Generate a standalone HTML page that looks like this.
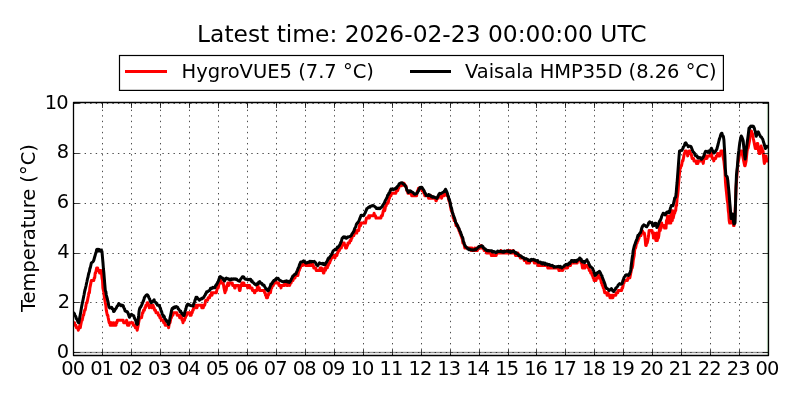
<!DOCTYPE html>
<html lang="en"><head><meta charset="utf-8"><title>Latest time: 2026-02-23 00:00:00 UTC</title>
<style>html,body{margin:0;padding:0;background:#fff;}body{width:800px;height:400px;overflow:hidden;}svg{display:block;}text{font-family:"DejaVu Sans", "Liberation Sans", sans-serif;fill:#000;}</style>
</head><body>
<svg width="800" height="400" viewBox="0 0 800 400">
<rect x="0" y="0" width="800" height="400" fill="#fff"/>
<g stroke="#000" stroke-width="0.7" stroke-dasharray="1.39,4.166" fill="none" shape-rendering="auto">
<line x1="102.5" y1="355.5" x2="102.5" y2="102.5"/>
<line x1="131.5" y1="355.5" x2="131.5" y2="102.5"/>
<line x1="160.5" y1="355.5" x2="160.5" y2="102.5"/>
<line x1="189.5" y1="355.5" x2="189.5" y2="102.5"/>
<line x1="218.5" y1="355.5" x2="218.5" y2="102.5"/>
<line x1="247.5" y1="355.5" x2="247.5" y2="102.5"/>
<line x1="276.5" y1="355.5" x2="276.5" y2="102.5"/>
<line x1="305.5" y1="355.5" x2="305.5" y2="102.5"/>
<line x1="334.5" y1="355.5" x2="334.5" y2="102.5"/>
<line x1="363.5" y1="355.5" x2="363.5" y2="102.5"/>
<line x1="392.5" y1="355.5" x2="392.5" y2="102.5"/>
<line x1="421.5" y1="355.5" x2="421.5" y2="102.5"/>
<line x1="450.5" y1="355.5" x2="450.5" y2="102.5"/>
<line x1="479.5" y1="355.5" x2="479.5" y2="102.5"/>
<line x1="508.5" y1="355.5" x2="508.5" y2="102.5"/>
<line x1="536.5" y1="355.5" x2="536.5" y2="102.5"/>
<line x1="565.5" y1="355.5" x2="565.5" y2="102.5"/>
<line x1="594.5" y1="355.5" x2="594.5" y2="102.5"/>
<line x1="623.5" y1="355.5" x2="623.5" y2="102.5"/>
<line x1="652.5" y1="355.5" x2="652.5" y2="102.5"/>
<line x1="681.5" y1="355.5" x2="681.5" y2="102.5"/>
<line x1="710.5" y1="355.5" x2="710.5" y2="102.5"/>
<line x1="739.5" y1="355.5" x2="739.5" y2="102.5"/>
<line x1="73.5" y1="352.5" x2="768.5" y2="352.5"/>
<line x1="73.5" y1="302.5" x2="768.5" y2="302.5"/>
<line x1="73.5" y1="253.5" x2="768.5" y2="253.5"/>
<line x1="73.5" y1="203.5" x2="768.5" y2="203.5"/>
<line x1="73.5" y1="153.5" x2="768.5" y2="153.5"/>
<line x1="73.5" y1="103.5" x2="768.5" y2="103.5"/>
</g>
<line x1="73.5" y1="352.5" x2="768.5" y2="352.5" stroke="#000" stroke-opacity="0.08" stroke-width="3"/>
<line x1="73.5" y1="352.5" x2="768.5" y2="352.5" stroke="#000" stroke-opacity="0.38" stroke-width="1"/>
<line x1="767.4" y1="102.5" x2="767.4" y2="355.5" stroke="#008000" stroke-opacity="0.25" stroke-width="1"/>
<clipPath id="c"><rect x="73.5" y="102.5" width="695.0" height="253.0"/></clipPath>
<g clip-path="url(#c)" fill="none" stroke-linejoin="round" stroke-linecap="butt">
<polyline stroke="#ff0000" stroke-width="3.00" points="73.5,322.7 74.5,322.7 74.9,325.2 75.9,325.2 76.4,327.7 77.8,327.7 78.3,330.2 78.8,327.7 79.3,327.7 79.8,325.2 80.3,327.7 80.7,325.2 81.2,322.7 81.7,320.2 82.2,320.2 82.7,317.7 83.2,315.2 83.6,315.2 84.1,312.8 84.6,310.3 85.1,310.3 85.6,307.8 86.0,305.3 86.5,302.8 87.0,302.8 87.5,300.3 88.0,297.8 88.5,295.3 88.9,292.8 89.4,292.8 89.9,287.9 90.4,285.4 90.9,282.9 91.4,280.4 93.8,280.4 94.2,277.9 94.7,277.9 95.2,272.9 95.7,272.9 96.2,270.4 96.7,267.9 97.6,267.9 98.1,270.4 99.1,270.4 99.6,272.9 100.0,270.4 100.5,272.9 101.0,270.4 101.5,272.9 102.0,277.9 102.5,280.4 102.9,287.9 103.4,290.4 103.9,292.8 104.4,297.8 104.9,300.3 105.3,302.8 105.8,305.3 106.3,310.3 106.8,312.8 107.3,315.2 107.8,315.2 108.2,317.7 108.7,320.2 109.2,322.7 109.7,322.7 110.2,325.2 110.7,322.7 111.1,325.2 111.6,322.7 112.1,325.2 113.1,325.2 113.5,322.7 114.0,325.2 115.0,325.2 115.5,322.7 116.0,325.2 116.4,322.7 116.9,322.7 117.4,320.2 123.2,320.2 123.7,322.7 126.1,322.7 126.6,320.2 127.1,322.7 127.5,325.2 129.0,325.2 129.5,322.7 132.8,322.7 133.3,325.2 134.8,325.2 135.3,327.7 136.7,327.7 137.2,330.2 137.7,327.7 138.2,325.2 138.6,322.7 139.1,320.2 139.6,317.7 141.5,317.7 142.0,315.2 142.5,312.8 143.0,312.8 143.5,310.3 144.4,310.3 144.9,307.8 145.4,307.8 145.9,305.3 146.8,305.3 147.3,302.8 147.8,302.8 148.3,305.3 148.8,305.3 149.3,307.8 149.7,305.3 151.2,305.3 151.7,307.8 152.6,307.8 153.1,305.3 153.6,307.8 154.1,307.8 154.6,310.3 155.5,310.3 156.0,312.8 157.9,312.8 158.4,315.2 159.4,315.2 159.9,317.7 160.8,317.7 161.3,320.2 163.2,320.2 163.7,322.7 164.7,322.7 165.2,325.2 168.1,325.2 168.6,327.7 169.0,325.2 169.5,322.7 170.0,322.7 170.5,320.2 171.0,317.7 171.4,317.7 171.9,315.2 172.9,315.2 173.4,312.8 176.8,312.8 177.2,315.2 179.2,315.2 179.7,317.7 180.1,315.2 180.6,315.2 181.1,317.7 181.6,317.7 182.1,320.2 182.5,320.2 183.0,322.7 183.5,320.2 184.5,320.2 185.0,317.7 185.4,317.7 185.9,315.2 186.9,315.2 187.4,312.8 189.8,312.8 190.3,315.2 190.7,312.8 191.2,315.2 191.7,312.8 192.2,312.8 192.7,310.3 193.2,310.3 193.6,307.8 195.6,307.8 196.1,305.3 196.5,307.8 197.0,307.8 197.5,305.3 201.4,305.3 201.8,307.8 202.3,305.3 202.8,307.8 203.3,307.8 203.8,305.3 204.7,305.3 205.2,302.8 205.7,300.3 207.6,300.3 208.1,297.8 209.6,297.8 210.0,295.3 211.0,295.3 211.5,292.8 212.0,295.3 212.5,292.8 216.3,292.8 216.8,290.4 217.3,287.9 218.2,287.9 218.7,285.4 219.2,282.9 219.7,282.9 220.2,280.4 220.7,280.4 221.1,282.9 223.1,282.9 223.6,285.4 224.0,287.9 224.5,290.4 225.0,292.8 225.5,290.4 226.0,290.4 226.5,287.9 226.9,285.4 227.4,285.4 227.9,282.9 228.4,282.9 228.9,285.4 229.3,282.9 232.2,282.9 232.7,285.4 234.2,285.4 234.7,287.9 235.1,287.9 235.6,285.4 238.5,285.4 239.0,287.9 239.5,290.4 240.0,290.4 240.4,287.9 240.9,285.4 241.4,285.4 241.9,282.9 242.9,282.9 243.3,285.4 243.8,282.9 244.3,285.4 247.2,285.4 247.7,287.9 248.2,285.4 249.6,285.4 250.1,287.9 252.0,287.9 252.5,290.4 254.0,290.4 254.4,292.8 254.9,292.8 255.4,290.4 256.9,290.4 257.3,287.9 257.8,285.4 258.3,287.9 259.3,287.9 259.7,290.4 264.1,290.4 264.6,292.8 265.1,292.8 265.5,295.3 266.0,295.3 266.5,297.8 267.0,295.3 267.5,297.8 267.9,295.3 268.4,295.3 268.9,292.8 270.4,292.8 270.8,290.4 271.3,287.9 271.8,287.9 272.3,285.4 273.3,285.4 273.7,282.9 275.2,282.9 275.7,280.4 276.1,282.9 278.6,282.9 279.0,285.4 280.5,285.4 281.0,287.9 281.5,285.4 284.4,285.4 284.8,282.9 286.3,282.9 286.8,285.4 287.2,285.4 287.7,282.9 288.2,285.4 288.7,282.9 289.2,282.9 289.7,285.4 290.1,282.9 291.1,282.9 291.6,280.4 293.0,280.4 293.5,277.9 295.0,277.9 295.4,275.4 297.9,275.4 298.3,272.9 298.8,270.4 299.3,270.4 299.8,267.9 300.3,267.9 300.8,265.5 302.7,265.5 303.2,263.0 305.1,263.0 305.6,265.5 309.0,265.5 309.4,263.0 309.9,265.5 311.4,265.5 311.9,263.0 312.3,263.0 312.8,265.5 313.3,265.5 313.8,267.9 315.7,267.9 316.2,270.4 319.6,270.4 320.1,267.9 320.5,267.9 321.0,270.4 321.5,267.9 322.0,270.4 323.0,270.4 323.4,272.9 323.9,272.9 324.4,270.4 324.9,267.9 325.4,270.4 325.8,267.9 326.3,267.9 326.8,265.5 327.3,267.9 327.8,265.5 328.3,265.5 328.7,263.0 329.7,263.0 330.2,260.5 330.7,260.5 331.2,258.0 332.1,258.0 332.6,255.5 334.5,255.5 335.0,258.0 335.5,255.5 336.9,255.5 337.4,253.0 337.9,253.0 338.4,250.5 339.4,250.5 339.8,248.0 341.3,248.0 341.8,245.5 342.3,245.5 342.7,243.0 344.2,243.0 344.7,245.5 345.1,245.5 345.6,248.0 346.1,245.5 346.6,248.0 347.1,245.5 347.6,245.5 348.0,243.0 349.5,243.0 350.0,240.6 350.9,240.6 351.4,238.1 351.9,238.1 352.4,235.6 353.8,235.6 354.3,233.1 354.8,233.1 355.3,230.6 355.8,230.6 356.2,233.1 356.7,233.1 357.2,230.6 358.7,230.6 359.1,228.1 359.6,225.6 360.1,223.1 360.6,225.6 361.1,223.1 365.4,223.1 365.9,220.6 366.4,218.1 368.3,218.1 368.8,215.7 369.3,218.1 369.8,215.7 373.6,215.7 374.1,213.2 374.6,215.7 375.5,215.7 376.0,218.1 380.9,218.1 381.3,215.7 382.3,215.7 382.8,213.2 383.3,210.7 383.7,210.7 384.2,208.2 384.7,210.7 385.2,208.2 385.7,205.7 386.2,205.7 386.6,203.2 388.1,203.2 388.6,200.7 389.1,198.2 389.5,198.2 390.0,195.7 391.0,195.7 391.5,193.2 395.8,193.2 396.3,190.8 396.8,190.8 397.3,188.3 397.7,190.8 398.2,188.3 398.7,188.3 399.2,185.8 401.6,185.8 402.1,183.3 404.0,183.3 404.5,185.8 405.9,185.8 406.4,188.3 406.9,190.8 407.4,190.8 407.9,193.2 411.2,193.2 411.7,195.7 416.6,195.7 417.0,193.2 417.5,190.8 418.0,190.8 418.5,188.3 421.4,188.3 421.9,190.8 423.3,190.8 423.8,193.2 424.3,193.2 424.8,195.7 428.1,195.7 428.6,198.2 429.1,195.7 429.6,195.7 430.1,198.2 430.5,195.7 431.0,195.7 431.5,198.2 435.4,198.2 435.9,200.7 436.3,200.7 436.8,198.2 438.3,198.2 438.8,195.7 441.2,195.7 441.6,198.2 442.1,195.7 444.1,195.7 444.5,193.2 446.5,193.2 447.0,195.7 447.9,195.7 448.4,198.2 448.9,200.7 449.4,200.7 449.9,203.2 450.3,205.7 450.8,208.2 451.3,210.7 451.8,210.7 452.3,213.2 452.7,213.2 453.2,218.1 453.7,218.1 454.2,220.6 455.2,220.6 455.6,223.1 456.1,225.6 457.6,225.6 458.1,228.1 458.5,228.1 459.0,230.6 459.5,230.6 460.0,233.1 460.5,233.1 460.9,235.6 461.4,235.6 461.9,238.1 462.4,238.1 462.9,243.0 463.8,243.0 464.3,245.5 464.8,248.0 470.6,248.0 471.1,250.5 471.6,250.5 472.0,248.0 472.5,250.5 474.5,250.5 474.9,248.0 475.4,250.5 476.4,250.5 476.9,248.0 477.4,250.5 477.8,248.0 480.7,248.0 481.2,245.5 481.7,248.0 483.6,248.0 484.1,250.5 486.0,250.5 486.5,253.0 487.0,250.5 487.5,253.0 488.0,253.0 488.4,250.5 488.9,253.0 490.9,253.0 491.3,255.5 491.8,253.0 492.3,253.0 492.8,255.5 496.2,255.5 496.7,253.0 500.5,253.0 501.0,250.5 501.5,253.0 506.8,253.0 507.3,250.5 507.8,253.0 509.2,253.0 509.7,250.5 510.2,250.5 510.6,253.0 512.6,253.0 513.1,250.5 513.5,253.0 515.0,253.0 515.5,255.5 517.4,255.5 517.9,253.0 518.4,255.5 519.8,255.5 520.3,258.0 523.7,258.0 524.2,260.5 526.1,260.5 526.6,263.0 527.0,260.5 527.5,263.0 528.0,260.5 528.5,263.0 529.0,260.5 529.5,263.0 529.9,260.5 533.8,260.5 534.3,263.0 537.7,263.0 538.1,265.5 538.6,263.0 539.1,265.5 547.3,265.5 547.8,267.9 548.3,265.5 548.8,267.9 558.4,267.9 558.9,270.4 559.4,267.9 559.9,270.4 560.3,267.9 560.8,267.9 561.3,270.4 561.8,267.9 562.3,267.9 562.8,270.4 563.2,267.9 566.6,267.9 567.1,265.5 567.6,267.9 568.1,265.5 570.5,265.5 571.0,263.0 577.2,263.0 577.7,260.5 580.6,260.5 581.1,263.0 581.6,263.0 582.1,265.5 582.5,267.9 583.0,265.5 583.5,267.9 584.0,265.5 584.5,267.9 585.0,267.9 585.4,265.5 587.8,265.5 588.3,267.9 588.8,267.9 589.3,270.4 590.3,270.4 590.7,272.9 591.7,272.9 592.2,275.4 592.7,275.4 593.2,277.9 593.6,277.9 594.1,280.4 596.0,280.4 596.5,277.9 597.5,277.9 598.0,275.4 598.9,275.4 599.4,277.9 600.4,277.9 600.9,280.4 601.4,282.9 601.8,282.9 602.3,285.4 602.8,285.4 603.3,287.9 603.8,287.9 604.2,290.4 604.7,292.8 606.7,292.8 607.1,295.3 607.6,292.8 608.1,292.8 608.6,295.3 609.6,295.3 610.0,297.8 610.5,295.3 611.0,295.3 611.5,297.8 612.0,297.8 612.5,295.3 612.9,297.8 613.4,295.3 615.8,295.3 616.3,292.8 617.8,292.8 618.2,290.4 621.6,290.4 622.1,287.9 622.6,287.9 623.1,285.4 623.5,282.9 624.0,282.9 624.5,280.4 627.4,280.4 627.9,277.9 628.9,277.9 629.3,275.4 629.8,277.9 630.3,275.4 630.8,272.9 631.3,270.4 631.8,267.9 632.2,267.9 632.7,265.5 633.2,260.5 633.7,258.0 634.2,255.5 634.6,250.5 635.1,248.0 635.6,248.0 636.1,245.5 636.6,243.0 637.1,243.0 637.5,240.6 638.0,240.6 638.5,238.1 639.0,238.1 639.5,235.6 640.9,235.6 641.4,233.1 641.9,233.1 642.4,230.6 642.9,233.1 644.3,233.1 644.8,235.6 645.3,240.6 645.7,245.5 646.2,245.5 646.7,243.0 647.2,243.0 647.7,240.6 648.2,238.1 648.6,235.6 649.1,230.6 652.0,230.6 652.5,233.1 653.0,233.1 653.5,238.1 653.9,235.6 654.4,233.1 654.9,235.6 655.4,235.6 655.9,240.6 656.4,240.6 656.8,233.1 657.3,240.6 657.8,235.6 658.3,238.1 658.8,235.6 659.3,230.6 659.7,225.6 660.2,230.6 660.7,228.1 661.2,228.1 661.7,223.1 662.1,225.6 664.1,225.6 664.6,228.1 665.0,228.1 665.5,225.6 666.0,228.1 666.5,220.6 667.0,223.1 667.5,215.7 667.9,223.1 669.9,223.1 670.4,215.7 670.8,223.1 671.3,210.7 671.8,215.7 672.3,220.6 672.8,210.7 673.2,218.1 673.7,215.7 674.2,213.2 674.7,213.2 675.2,210.7 675.7,210.7 676.1,205.7 676.6,205.7 677.1,198.2 677.6,195.7 678.1,190.8 678.6,183.3 679.0,178.3 679.5,173.3 680.0,168.3 680.5,168.3 681.0,165.8 681.5,165.8 681.9,163.4 682.4,160.9 682.9,160.9 683.4,158.4 683.9,155.9 684.3,153.4 684.8,153.4 685.3,150.9 686.3,150.9 686.8,153.4 687.2,153.4 687.7,155.9 688.2,153.4 688.7,153.4 689.2,150.9 689.7,150.9 690.1,153.4 691.1,153.4 691.6,155.9 692.1,158.4 693.5,158.4 694.0,160.9 695.9,160.9 696.4,163.4 696.9,160.9 697.4,163.4 697.9,163.4 698.3,160.9 702.7,160.9 703.2,163.4 703.6,160.9 704.1,158.4 705.1,158.4 705.6,155.9 706.1,158.4 706.5,155.9 707.0,158.4 707.5,155.9 709.9,155.9 710.4,153.4 711.4,153.4 711.8,155.9 712.3,158.4 713.3,158.4 713.8,160.9 714.3,158.4 715.7,158.4 716.2,155.9 717.2,155.9 717.6,153.4 718.1,153.4 718.6,155.9 719.6,155.9 720.0,153.4 720.5,153.4 721.0,150.9 722.5,150.9 722.9,155.9 723.4,158.4 723.9,160.9 724.4,165.8 724.9,170.8 725.4,180.8 725.8,185.8 726.3,190.8 726.8,195.7 727.3,200.7 727.8,203.2 728.3,210.7 728.7,213.2 729.2,220.6 729.7,223.1 730.2,223.1 730.7,220.6 732.1,220.6 732.6,223.1 733.1,223.1 733.6,225.6 734.0,225.6 734.5,223.1 735.0,213.2 735.5,203.2 736.0,188.3 736.5,180.8 736.9,175.8 737.4,168.3 737.9,163.4 738.4,160.9 738.9,158.4 739.3,155.9 739.8,153.4 740.3,153.4 740.8,150.9 741.8,150.9 742.2,153.4 742.7,155.9 743.2,158.4 743.7,160.9 744.2,163.4 744.7,165.8 745.1,165.8 745.6,163.4 746.1,160.9 746.6,155.9 747.1,150.9 747.6,148.4 748.0,148.4 748.5,145.9 749.0,143.4 749.5,141.0 750.0,136.0 750.4,136.0 750.9,133.5 751.4,131.0 751.9,133.5 752.4,133.5 752.9,136.0 753.3,138.5 753.8,141.0 754.3,143.4 754.8,145.9 755.3,148.4 756.2,148.4 756.7,145.9 757.2,143.4 757.7,143.4 758.2,148.4 758.6,150.9 759.1,153.4 760.1,153.4 760.6,150.9 761.1,145.9 761.5,148.4 762.0,148.4 762.5,150.9 763.0,150.9 763.5,155.9 764.0,160.9 764.4,163.4 764.9,160.9 765.4,155.9 765.9,155.9 766.4,158.4 766.9,160.9 768.3,160.9"/>
<polyline stroke="#000000" stroke-width="3.00" points="73.50,312.00 73.98,313.25 74.47,313.75 74.95,315.25 75.43,316.00 75.91,317.00 76.39,318.75 76.88,319.25 77.36,320.00 77.84,321.50 78.33,322.50 78.81,322.75 79.29,320.25 79.77,317.25 80.25,314.75 80.74,312.00 81.22,309.00 81.70,306.25 82.19,303.75 82.67,301.50 83.15,299.25 83.63,296.75 84.11,294.50 84.60,291.50 85.08,289.75 85.56,287.75 86.05,285.75 86.53,283.25 87.01,281.25 87.49,278.75 87.97,277.25 88.46,274.50 88.94,272.75 89.42,271.50 89.91,268.50 90.39,267.50 90.87,265.25 91.35,263.00 91.83,262.50 92.32,262.25 92.80,262.00 93.28,261.25 93.77,260.25 94.25,258.50 94.73,256.75 95.21,255.25 95.69,253.25 96.18,252.25 96.66,249.50 97.14,249.25 97.62,249.50 98.11,249.25 98.59,251.00 99.07,249.50 99.56,250.50 100.04,250.50 100.52,251.25 101.00,250.00 101.48,251.00 101.97,251.25 102.45,257.00 102.93,262.25 103.41,268.50 103.90,273.25 104.38,279.25 104.86,285.00 105.34,290.75 105.83,291.50 106.31,295.00 106.79,297.00 107.28,298.50 107.76,301.00 108.24,302.75 108.72,305.75 109.20,307.25 109.69,308.00 110.17,307.75 110.65,307.75 111.13,307.50 111.62,307.25 112.10,308.75 112.58,308.50 113.06,309.00 113.55,311.50 114.03,311.50 114.51,310.75 115.00,309.75 115.48,309.00 115.96,308.50 116.44,307.75 116.92,306.50 117.41,305.75 117.89,305.75 118.37,304.50 118.85,303.50 119.34,305.00 119.82,304.75 120.30,304.75 120.78,304.75 121.27,305.75 121.75,305.25 122.23,305.25 122.72,305.25 123.20,305.75 123.68,307.50 124.16,308.25 124.64,309.25 125.13,311.00 125.61,311.00 126.09,311.50 126.58,311.75 127.06,311.50 127.54,312.00 128.02,313.25 128.50,314.25 128.99,316.00 129.47,317.25 129.95,316.25 130.44,315.50 130.92,314.75 131.40,314.25 131.88,314.50 132.37,315.00 132.85,315.25 133.33,315.75 133.81,315.75 134.29,317.75 134.78,318.75 135.26,319.50 135.74,320.50 136.22,322.50 136.71,324.00 137.19,324.50 137.67,324.00 138.16,319.50 138.64,315.75 139.12,311.00 139.60,308.75 140.08,307.50 140.57,307.25 141.05,306.25 141.53,305.50 142.01,304.25 142.50,303.00 142.98,301.75 143.46,300.75 143.94,299.25 144.43,297.50 144.91,296.75 145.39,296.25 145.88,295.50 146.36,295.00 146.84,294.75 147.32,294.75 147.81,295.25 148.29,296.00 148.77,297.50 149.25,298.25 149.74,299.25 150.22,301.25 150.70,302.00 151.18,302.75 151.66,302.50 152.15,302.25 152.63,301.25 153.11,300.75 153.59,300.50 154.08,299.75 154.56,301.25 155.04,302.00 155.52,302.50 156.01,302.50 156.49,303.75 156.97,304.00 157.45,305.25 157.94,305.25 158.42,305.25 158.90,305.25 159.38,305.50 159.87,307.25 160.35,308.00 160.83,309.75 161.31,311.25 161.80,312.25 162.28,314.50 162.76,314.75 163.25,316.50 163.73,315.75 164.21,316.50 164.69,318.25 165.18,319.00 165.66,319.50 166.14,320.50 166.62,320.50 167.10,321.75 167.59,322.25 168.07,323.25 168.55,324.50 169.03,323.00 169.52,320.75 170.00,318.00 170.48,315.75 170.96,313.50 171.45,311.00 171.93,309.25 172.41,308.25 172.89,308.75 173.38,307.50 173.86,308.00 174.34,307.00 174.82,307.75 175.31,306.75 175.79,306.75 176.27,306.50 176.75,306.75 177.24,307.00 177.72,307.25 178.20,309.00 178.69,309.00 179.17,309.75 179.65,310.50 180.13,311.75 180.61,311.00 181.10,312.50 181.58,312.75 182.06,313.75 182.54,313.50 183.03,314.50 183.51,315.50 183.99,315.50 184.47,313.75 184.96,311.50 185.44,310.25 185.92,308.75 186.40,306.75 186.89,305.25 187.37,304.50 187.85,304.00 188.33,304.25 188.82,305.00 189.30,304.50 189.78,305.25 190.26,305.50 190.75,305.50 191.23,305.75 191.71,305.75 192.19,305.75 192.68,305.75 193.16,306.00 193.64,304.00 194.12,303.00 194.61,301.75 195.09,300.00 195.57,299.00 196.06,297.25 196.54,297.50 197.02,297.25 197.50,298.00 197.99,298.75 198.47,299.25 198.95,299.75 199.43,300.25 199.91,299.75 200.40,299.00 200.88,299.25 201.36,299.00 201.84,298.25 202.33,298.75 202.81,298.00 203.29,297.50 203.78,297.50 204.26,296.25 204.74,295.50 205.22,295.00 205.70,293.50 206.19,293.25 206.67,291.75 207.15,292.00 207.63,291.50 208.12,291.50 208.60,290.75 209.08,290.75 209.56,290.50 210.05,289.75 210.53,288.25 211.01,288.75 211.50,288.25 211.98,287.75 212.46,288.25 212.94,287.25 213.43,287.50 213.91,287.75 214.39,287.75 214.87,287.75 215.35,286.25 215.84,285.25 216.32,285.25 216.80,283.75 217.28,283.50 217.77,282.00 218.25,281.50 218.73,280.00 219.21,278.50 219.70,277.00 220.18,276.50 220.66,276.75 221.14,277.25 221.63,277.50 222.11,278.00 222.59,278.00 223.07,279.50 223.56,279.50 224.04,280.50 224.52,281.00 225.00,279.50 225.49,278.50 225.97,279.00 226.45,278.00 226.94,278.50 227.42,278.50 227.90,279.00 228.38,278.75 228.86,279.50 229.35,279.50 229.83,280.00 230.31,279.00 230.79,280.00 231.28,279.75 231.76,278.75 232.24,279.00 232.72,279.00 233.21,279.25 233.69,278.75 234.17,279.25 234.66,279.00 235.14,278.75 235.62,279.00 236.10,279.50 236.59,279.00 237.07,279.75 237.55,280.25 238.03,280.50 238.51,281.00 239.00,281.00 239.48,281.25 239.96,280.25 240.44,279.50 240.93,278.75 241.41,278.25 241.89,277.50 242.37,276.75 242.86,276.75 243.34,276.75 243.82,277.00 244.30,278.25 244.79,278.75 245.27,279.25 245.75,279.25 246.23,279.00 246.72,279.50 247.20,279.50 247.68,279.75 248.16,279.50 248.65,279.75 249.13,279.25 249.61,279.75 250.09,279.25 250.58,279.25 251.06,280.25 251.54,281.50 252.02,280.75 252.51,282.25 252.99,282.25 253.47,282.75 253.95,283.25 254.44,284.00 254.92,284.00 255.40,284.75 255.88,285.00 256.37,284.75 256.85,283.75 257.33,284.25 257.81,283.75 258.30,283.75 258.78,282.00 259.26,282.00 259.75,281.50 260.23,282.75 260.71,283.25 261.19,283.00 261.68,283.25 262.16,284.25 262.64,285.00 263.12,284.75 263.60,285.50 264.09,285.25 264.57,286.50 265.05,287.25 265.53,288.00 266.02,289.00 266.50,288.75 266.98,289.00 267.46,290.50 267.95,290.75 268.43,290.50 268.91,289.50 269.39,288.25 269.88,287.25 270.36,286.00 270.84,284.00 271.32,284.00 271.81,284.00 272.29,282.50 272.77,282.25 273.25,281.25 273.74,280.50 274.22,280.75 274.70,280.25 275.18,279.50 275.67,279.75 276.15,278.50 276.63,278.50 277.12,278.75 277.60,278.25 278.08,278.25 278.56,279.25 279.04,279.50 279.53,280.25 280.01,280.50 280.49,280.50 280.98,280.75 281.46,281.25 281.94,281.25 282.42,281.75 282.90,281.75 283.39,281.75 283.87,281.50 284.35,281.25 284.83,281.50 285.32,281.25 285.80,281.50 286.28,280.75 286.76,281.25 287.25,282.00 287.73,281.25 288.21,281.25 288.69,281.75 289.18,282.50 289.66,282.25 290.14,281.50 290.62,280.50 291.11,279.75 291.59,278.50 292.07,277.75 292.55,276.75 293.04,275.75 293.52,275.75 294.00,275.25 294.49,274.50 294.97,274.00 295.45,274.25 295.93,274.00 296.41,272.50 296.90,271.25 297.38,270.50 297.86,269.00 298.35,267.75 298.83,267.25 299.31,265.25 299.79,264.25 300.27,263.00 300.76,262.00 301.24,262.00 301.72,262.00 302.20,262.00 302.69,261.50 303.17,261.00 303.65,260.75 304.13,261.50 304.62,261.75 305.10,262.25 305.58,263.00 306.06,263.00 306.55,263.00 307.03,262.50 307.51,262.75 308.00,262.50 308.48,262.00 308.96,262.00 309.44,262.25 309.93,261.25 310.41,261.50 310.89,261.25 311.37,262.00 311.85,261.50 312.34,261.50 312.82,261.50 313.30,261.75 313.78,261.75 314.27,261.25 314.75,262.00 315.23,262.50 315.71,262.75 316.20,264.25 316.68,265.00 317.16,265.25 317.64,265.75 318.13,265.00 318.61,264.25 319.09,263.75 319.57,262.75 320.06,263.25 320.54,263.50 321.02,263.75 321.50,263.50 321.99,263.50 322.47,264.00 322.95,263.25 323.43,264.50 323.92,264.25 324.40,264.25 324.88,264.75 325.37,263.75 325.85,262.75 326.33,262.50 326.81,261.50 327.29,261.00 327.78,259.50 328.26,258.50 328.74,257.75 329.23,258.25 329.71,257.25 330.19,256.50 330.67,255.75 331.15,255.25 331.64,254.50 332.12,253.50 332.60,252.25 333.08,251.00 333.57,250.50 334.05,250.25 334.53,250.00 335.01,249.25 335.50,249.75 335.98,249.75 336.46,248.75 336.94,248.25 337.43,247.00 337.91,247.50 338.39,246.75 338.88,246.25 339.36,245.75 339.84,244.50 340.32,243.75 340.80,242.25 341.29,241.75 341.77,239.75 342.25,238.00 342.73,237.75 343.22,237.00 343.70,237.50 344.18,236.75 344.66,237.00 345.15,237.00 345.63,238.00 346.11,237.25 346.59,238.25 347.08,237.50 347.56,237.50 348.04,236.75 348.52,237.00 349.01,236.75 349.49,236.75 349.97,236.25 350.45,236.25 350.94,236.00 351.42,235.25 351.90,234.00 352.38,233.25 352.87,233.00 353.35,231.75 353.83,231.50 354.31,229.75 354.80,228.25 355.28,227.50 355.76,226.75 356.25,224.75 356.73,223.75 357.21,223.00 357.69,223.00 358.18,221.75 358.66,221.25 359.14,220.50 359.62,219.00 360.10,218.00 360.59,216.50 361.07,215.25 361.55,215.25 362.03,215.25 362.52,215.50 363.00,215.25 363.48,215.75 363.96,215.25 364.45,214.00 364.93,213.25 365.41,212.25 365.89,211.00 366.38,210.00 366.86,208.50 367.34,208.50 367.82,208.00 368.31,207.50 368.79,207.00 369.27,207.00 369.75,207.25 370.24,206.25 370.72,206.25 371.20,206.25 371.69,205.75 372.17,206.00 372.65,205.50 373.13,205.50 373.62,205.75 374.10,206.00 374.58,206.50 375.06,206.75 375.55,207.50 376.03,207.50 376.51,208.50 376.99,208.00 377.48,208.25 377.96,208.75 378.44,208.50 378.92,208.00 379.40,208.50 379.89,208.75 380.37,208.25 380.85,207.50 381.33,207.50 381.82,206.75 382.30,206.25 382.78,205.25 383.26,204.50 383.75,203.75 384.23,203.25 384.71,202.00 385.19,201.00 385.68,199.75 386.16,199.25 386.64,198.00 387.12,197.25 387.61,195.25 388.09,195.25 388.57,194.00 389.05,193.00 389.54,192.75 390.02,191.25 390.50,190.25 390.98,189.00 391.47,189.50 391.95,189.25 392.43,189.25 392.91,188.75 393.40,189.75 393.88,189.50 394.36,189.25 394.84,189.00 395.33,188.25 395.81,188.50 396.29,187.50 396.77,188.00 397.26,186.75 397.74,186.00 398.22,185.75 398.70,185.00 399.19,183.75 399.67,183.50 400.15,183.25 400.63,183.00 401.12,182.75 401.60,183.00 402.08,182.75 402.56,183.00 403.05,183.75 403.53,184.25 404.01,184.50 404.50,184.50 404.98,185.75 405.46,186.00 405.94,187.00 406.42,188.25 406.91,190.25 407.39,190.25 407.87,191.25 408.35,192.50 408.84,191.75 409.32,192.00 409.80,190.75 410.28,190.75 410.77,191.00 411.25,191.50 411.73,191.75 412.21,192.25 412.70,192.25 413.18,192.75 413.66,193.25 414.14,194.00 414.63,194.25 415.11,194.25 415.59,194.00 416.07,193.75 416.56,193.75 417.04,192.75 417.52,192.50 418.00,191.50 418.49,191.00 418.97,189.25 419.45,188.50 419.94,187.50 420.42,188.25 420.90,187.25 421.38,187.25 421.87,187.25 422.35,188.00 422.83,188.75 423.31,189.50 423.80,190.25 424.28,191.00 424.76,193.00 425.24,193.00 425.72,194.25 426.21,195.50 426.69,195.25 427.17,195.25 427.65,195.00 428.14,195.75 428.62,194.50 429.10,194.75 429.58,195.50 430.07,195.00 430.55,195.75 431.03,196.50 431.51,196.25 432.00,196.75 432.48,197.25 432.96,196.50 433.44,197.25 433.93,197.00 434.41,197.00 434.89,197.50 435.37,197.75 435.86,197.75 436.34,197.75 436.82,198.50 437.30,197.75 437.79,196.75 438.27,195.75 438.75,194.50 439.24,193.75 439.72,193.25 440.20,193.50 440.68,193.75 441.16,193.50 441.65,193.25 442.13,192.75 442.61,192.50 443.09,192.25 443.58,192.00 444.06,191.75 444.54,190.75 445.02,191.25 445.51,189.25 445.99,190.25 446.47,191.25 446.95,192.25 447.44,193.50 447.92,195.75 448.40,196.50 448.88,198.75 449.37,199.75 449.85,201.50 450.33,203.00 450.81,206.25 451.30,207.50 451.78,209.25 452.26,212.25 452.74,213.25 453.23,214.75 453.71,216.00 454.19,217.25 454.68,218.50 455.16,220.50 455.64,222.50 456.12,223.00 456.60,223.75 457.09,225.25 457.57,225.50 458.05,227.25 458.53,227.75 459.02,228.50 459.50,230.00 459.98,231.25 460.46,232.00 460.95,233.50 461.43,234.75 461.91,236.25 462.39,237.00 462.88,238.25 463.36,241.50 463.84,242.25 464.32,244.00 464.81,245.25 465.29,245.75 465.77,247.00 466.25,247.00 466.74,247.75 467.22,247.75 467.70,249.00 468.18,248.50 468.67,249.25 469.15,249.75 469.63,249.00 470.12,249.50 470.60,249.75 471.08,249.75 471.56,249.75 472.04,250.00 472.53,250.25 473.01,249.75 473.49,250.00 473.98,250.25 474.46,249.75 474.94,249.50 475.42,249.00 475.90,249.75 476.39,248.75 476.87,248.75 477.35,248.25 477.83,247.75 478.32,247.50 478.80,246.50 479.28,246.50 479.76,246.50 480.25,246.25 480.73,246.25 481.21,246.00 481.69,245.75 482.18,246.50 482.66,246.25 483.14,247.25 483.62,248.25 484.11,248.50 484.59,248.50 485.07,248.75 485.55,250.00 486.04,249.50 486.52,250.25 487.00,250.75 487.48,250.75 487.97,250.50 488.45,250.50 488.93,251.00 489.41,250.75 489.90,250.75 490.38,250.75 490.86,250.75 491.34,250.75 491.83,250.75 492.31,252.00 492.79,251.75 493.27,251.50 493.76,251.50 494.24,252.25 494.72,251.75 495.20,252.00 495.69,252.75 496.17,252.50 496.65,252.50 497.13,251.75 497.62,251.00 498.10,251.50 498.58,251.50 499.06,251.25 499.55,251.50 500.03,251.50 500.51,251.00 500.99,251.75 501.48,251.50 501.96,251.50 502.44,252.00 502.93,251.25 503.41,252.25 503.89,252.25 504.37,251.00 504.85,251.75 505.34,251.50 505.82,251.25 506.30,251.25 506.78,251.00 507.27,251.25 507.75,251.00 508.23,250.75 508.71,252.00 509.20,252.00 509.68,251.50 510.16,252.00 510.64,252.50 511.13,251.25 511.61,251.50 512.09,251.50 512.58,251.75 513.06,251.25 513.54,250.75 514.02,251.75 514.50,251.75 514.99,252.25 515.47,253.25 515.95,252.50 516.43,253.00 516.92,253.75 517.40,253.75 517.88,254.25 518.37,254.50 518.85,255.75 519.33,255.25 519.81,255.50 520.29,256.00 520.78,256.25 521.26,256.00 521.74,256.75 522.23,257.50 522.71,257.25 523.19,257.75 523.67,258.00 524.15,258.00 524.64,259.25 525.12,258.75 525.60,258.75 526.08,258.50 526.57,259.00 527.05,259.00 527.53,259.50 528.01,259.50 528.50,260.50 528.98,260.25 529.46,260.50 529.94,260.50 530.43,261.00 530.91,259.50 531.39,259.25 531.88,259.75 532.36,259.75 532.84,259.50 533.32,259.25 533.80,259.75 534.29,260.25 534.77,260.00 535.25,260.00 535.73,260.75 536.22,260.50 536.70,260.75 537.18,261.25 537.66,260.50 538.15,262.25 538.63,261.75 539.11,262.25 539.60,262.25 540.08,262.50 540.56,262.00 541.04,263.25 541.52,263.00 542.01,263.00 542.49,264.00 542.97,262.75 543.45,263.50 543.94,263.50 544.42,263.00 544.90,264.50 545.38,263.25 545.87,264.00 546.35,264.00 546.83,264.25 547.32,264.00 547.80,265.00 548.28,264.75 548.76,264.50 549.24,264.50 549.73,265.25 550.21,265.00 550.69,265.50 551.17,265.75 551.66,265.50 552.14,265.25 552.62,265.50 553.11,266.25 553.59,266.25 554.07,267.25 554.55,266.50 555.03,267.00 555.52,267.00 556.00,266.75 556.48,266.75 556.96,267.00 557.45,266.50 557.93,266.50 558.41,266.25 558.89,267.00 559.38,266.75 559.86,267.25 560.34,266.25 560.83,267.25 561.31,267.25 561.79,268.00 562.27,267.50 562.75,267.00 563.24,266.75 563.72,266.50 564.20,266.25 564.68,265.25 565.17,265.25 565.65,264.50 566.13,264.75 566.62,264.25 567.10,264.75 567.58,265.00 568.06,264.00 568.54,264.25 569.03,263.00 569.51,262.75 569.99,263.50 570.48,262.00 570.96,261.75 571.44,260.50 571.92,260.50 572.40,260.50 572.89,261.25 573.37,260.75 573.85,261.75 574.33,260.50 574.82,261.25 575.30,260.50 575.78,261.00 576.26,261.75 576.75,260.75 577.23,260.00 577.71,260.25 578.19,260.00 578.68,259.25 579.16,259.25 579.64,258.00 580.12,259.00 580.61,259.25 581.09,259.00 581.57,261.25 582.05,261.00 582.54,262.00 583.02,261.25 583.50,262.00 583.98,261.75 584.47,262.75 584.95,261.75 585.43,261.25 585.91,260.75 586.40,261.00 586.88,259.75 587.36,261.25 587.84,261.50 588.33,262.25 588.81,263.75 589.29,264.75 589.77,265.75 590.26,266.75 590.74,266.75 591.22,267.00 591.70,267.75 592.19,268.00 592.67,268.50 593.15,270.25 593.63,270.75 594.12,272.75 594.60,273.75 595.08,275.50 595.56,275.25 596.05,273.75 596.53,274.00 597.01,273.00 597.50,272.50 597.98,272.25 598.46,272.50 598.94,272.00 599.42,271.25 599.91,272.00 600.39,272.75 600.87,274.00 601.36,275.25 601.84,275.50 602.32,277.25 602.80,278.50 603.28,279.75 603.77,281.00 604.25,282.50 604.73,283.50 605.22,285.00 605.70,287.00 606.18,287.50 606.66,288.50 607.14,288.50 607.63,288.75 608.11,289.25 608.59,290.00 609.08,290.50 609.56,289.75 610.04,290.00 610.52,289.75 611.00,289.50 611.49,288.50 611.97,290.25 612.45,290.50 612.93,290.75 613.42,291.50 613.90,291.50 614.38,290.00 614.87,289.75 615.35,289.50 615.83,288.00 616.31,287.75 616.79,287.25 617.28,286.75 617.76,286.00 618.24,285.00 618.73,284.50 619.21,284.00 619.69,283.50 620.17,284.00 620.65,284.25 621.14,284.25 621.62,283.75 622.10,283.75 622.58,281.75 623.07,280.25 623.55,279.25 624.03,277.50 624.51,276.75 625.00,276.25 625.48,275.25 625.96,275.50 626.44,274.75 626.93,275.00 627.41,274.75 627.89,275.00 628.38,275.50 628.86,274.50 629.34,274.50 629.82,272.75 630.30,272.00 630.79,269.75 631.27,265.25 631.75,261.50 632.23,257.75 632.72,254.75 633.20,250.50 633.68,248.50 634.16,246.50 634.65,245.00 635.13,244.00 635.61,242.25 636.09,241.00 636.58,240.00 637.06,238.75 637.54,237.00 638.02,235.25 638.51,235.75 638.99,234.50 639.47,233.75 639.95,233.00 640.44,232.75 640.92,231.25 641.40,229.50 641.88,227.75 642.37,226.75 642.85,225.75 643.33,225.50 643.81,224.75 644.30,225.25 644.78,225.25 645.26,225.75 645.75,226.25 646.23,226.75 646.71,226.75 647.19,225.75 647.67,225.50 648.16,224.75 648.64,222.75 649.12,222.50 649.61,221.75 650.09,222.00 650.57,222.25 651.05,222.75 651.53,223.00 652.02,222.75 652.50,225.00 652.98,226.00 653.47,225.25 653.95,225.50 654.43,224.00 654.91,223.25 655.39,223.25 655.88,223.25 656.36,224.75 656.84,227.50 657.33,226.50 657.81,225.75 658.29,224.50 658.77,223.25 659.25,222.25 659.74,220.75 660.22,220.50 660.70,219.50 661.18,218.25 661.67,216.50 662.15,215.25 662.63,214.50 663.12,213.25 663.60,213.75 664.08,213.50 664.56,214.25 665.04,215.00 665.53,214.50 666.01,213.75 666.49,212.50 666.98,212.00 667.46,212.50 667.94,212.00 668.42,211.50 668.90,212.75 669.39,212.25 669.87,210.50 670.35,208.25 670.83,207.00 671.32,205.50 671.80,205.75 672.28,205.75 672.76,205.75 673.25,204.75 673.73,202.50 674.21,200.75 674.69,198.00 675.18,197.50 675.66,197.25 676.14,193.50 676.62,187.25 677.11,182.25 677.59,175.75 678.07,169.50 678.55,163.00 679.04,156.50 679.52,151.00 680.00,150.75 680.48,151.00 680.97,150.50 681.45,150.25 681.93,150.25 682.41,149.25 682.90,148.50 683.38,146.75 683.86,146.50 684.34,145.75 684.83,144.00 685.31,143.00 685.79,142.75 686.27,143.50 686.76,144.50 687.24,145.00 687.72,145.50 688.20,146.75 688.69,146.00 689.17,146.00 689.65,146.25 690.13,146.50 690.62,146.25 691.10,146.75 691.58,148.00 692.06,149.25 692.55,150.50 693.03,151.75 693.51,152.00 694.00,152.75 694.48,153.00 694.96,155.00 695.44,155.75 695.92,155.75 696.41,156.00 696.89,155.75 697.37,157.25 697.86,157.00 698.34,158.00 698.82,157.75 699.30,158.00 699.78,157.50 700.27,158.25 700.75,157.75 701.23,159.25 701.72,159.25 702.20,158.50 702.68,158.00 703.16,157.00 703.64,156.50 704.13,155.00 704.61,153.50 705.09,152.50 705.57,151.25 706.06,151.25 706.54,151.50 707.02,151.75 707.50,151.50 707.99,152.25 708.47,151.00 708.95,152.25 709.43,152.75 709.92,151.00 710.40,150.50 710.88,149.50 711.37,148.25 711.85,149.25 712.33,150.50 712.81,150.75 713.29,152.00 713.78,153.00 714.26,153.00 714.74,152.25 715.22,151.75 715.71,151.00 716.19,150.00 716.67,149.50 717.15,148.00 717.64,146.00 718.12,144.25 718.60,142.25 719.08,140.25 719.57,138.50 720.05,137.25 720.53,135.50 721.01,134.00 721.50,133.25 721.98,133.25 722.46,135.50 722.94,135.75 723.43,136.75 723.91,140.00 724.39,147.75 724.87,155.50 725.36,168.50 725.84,175.25 726.32,176.00 726.80,176.25 727.29,177.25 727.77,180.25 728.25,185.00 728.73,190.00 729.22,195.25 729.70,201.75 730.18,207.00 730.66,213.00 731.15,218.50 731.63,218.00 732.11,215.50 732.59,214.00 733.08,217.75 733.56,222.25 734.04,224.00 734.52,223.50 735.01,223.00 735.49,205.75 735.97,188.00 736.45,175.25 736.94,170.50 737.42,166.00 737.90,159.25 738.38,154.00 738.87,150.50 739.35,146.25 739.83,142.50 740.31,140.00 740.80,137.50 741.28,136.00 741.76,136.75 742.25,138.00 742.73,139.25 743.21,141.00 743.69,146.25 744.17,151.00 744.66,155.50 745.14,159.00 745.62,155.25 746.11,150.50 746.59,147.25 747.07,143.50 747.55,140.00 748.03,136.50 748.52,132.50 749.00,128.25 749.48,129.00 749.97,127.00 750.45,126.50 750.93,126.00 751.41,126.25 751.89,126.50 752.38,126.00 752.86,126.50 753.34,126.25 753.82,127.25 754.31,128.25 754.79,130.00 755.27,131.25 755.75,134.50 756.24,136.25 756.72,134.75 757.20,134.00 757.68,132.25 758.17,131.75 758.65,132.75 759.13,133.75 759.62,135.00 760.10,135.50 760.58,136.75 761.06,136.75 761.54,137.25 762.03,138.25 762.51,138.75 762.99,140.00 763.47,142.00 763.96,143.25 764.44,145.00 764.92,146.75 765.40,148.50 765.89,148.25 766.37,147.50 766.85,146.25 767.33,146.75 767.82,146.75 768.30,146.75"/>
</g>
<g stroke="#000" stroke-width="0.75" fill="none">
<line x1="73.5" y1="355.5" x2="73.5" y2="350.0"/>
<line x1="73.5" y1="102.5" x2="73.5" y2="108.0"/>
<line x1="102.5" y1="355.5" x2="102.5" y2="350.0"/>
<line x1="102.5" y1="102.5" x2="102.5" y2="108.0"/>
<line x1="131.5" y1="355.5" x2="131.5" y2="350.0"/>
<line x1="131.5" y1="102.5" x2="131.5" y2="108.0"/>
<line x1="160.5" y1="355.5" x2="160.5" y2="350.0"/>
<line x1="160.5" y1="102.5" x2="160.5" y2="108.0"/>
<line x1="189.5" y1="355.5" x2="189.5" y2="350.0"/>
<line x1="189.5" y1="102.5" x2="189.5" y2="108.0"/>
<line x1="218.5" y1="355.5" x2="218.5" y2="350.0"/>
<line x1="218.5" y1="102.5" x2="218.5" y2="108.0"/>
<line x1="247.5" y1="355.5" x2="247.5" y2="350.0"/>
<line x1="247.5" y1="102.5" x2="247.5" y2="108.0"/>
<line x1="276.5" y1="355.5" x2="276.5" y2="350.0"/>
<line x1="276.5" y1="102.5" x2="276.5" y2="108.0"/>
<line x1="305.5" y1="355.5" x2="305.5" y2="350.0"/>
<line x1="305.5" y1="102.5" x2="305.5" y2="108.0"/>
<line x1="334.5" y1="355.5" x2="334.5" y2="350.0"/>
<line x1="334.5" y1="102.5" x2="334.5" y2="108.0"/>
<line x1="363.5" y1="355.5" x2="363.5" y2="350.0"/>
<line x1="363.5" y1="102.5" x2="363.5" y2="108.0"/>
<line x1="392.5" y1="355.5" x2="392.5" y2="350.0"/>
<line x1="392.5" y1="102.5" x2="392.5" y2="108.0"/>
<line x1="421.5" y1="355.5" x2="421.5" y2="350.0"/>
<line x1="421.5" y1="102.5" x2="421.5" y2="108.0"/>
<line x1="450.5" y1="355.5" x2="450.5" y2="350.0"/>
<line x1="450.5" y1="102.5" x2="450.5" y2="108.0"/>
<line x1="479.5" y1="355.5" x2="479.5" y2="350.0"/>
<line x1="479.5" y1="102.5" x2="479.5" y2="108.0"/>
<line x1="508.5" y1="355.5" x2="508.5" y2="350.0"/>
<line x1="508.5" y1="102.5" x2="508.5" y2="108.0"/>
<line x1="536.5" y1="355.5" x2="536.5" y2="350.0"/>
<line x1="536.5" y1="102.5" x2="536.5" y2="108.0"/>
<line x1="565.5" y1="355.5" x2="565.5" y2="350.0"/>
<line x1="565.5" y1="102.5" x2="565.5" y2="108.0"/>
<line x1="594.5" y1="355.5" x2="594.5" y2="350.0"/>
<line x1="594.5" y1="102.5" x2="594.5" y2="108.0"/>
<line x1="623.5" y1="355.5" x2="623.5" y2="350.0"/>
<line x1="623.5" y1="102.5" x2="623.5" y2="108.0"/>
<line x1="652.5" y1="355.5" x2="652.5" y2="350.0"/>
<line x1="652.5" y1="102.5" x2="652.5" y2="108.0"/>
<line x1="681.5" y1="355.5" x2="681.5" y2="350.0"/>
<line x1="681.5" y1="102.5" x2="681.5" y2="108.0"/>
<line x1="710.5" y1="355.5" x2="710.5" y2="350.0"/>
<line x1="710.5" y1="102.5" x2="710.5" y2="108.0"/>
<line x1="739.5" y1="355.5" x2="739.5" y2="350.0"/>
<line x1="739.5" y1="102.5" x2="739.5" y2="108.0"/>
<line x1="768.5" y1="355.5" x2="768.5" y2="350.0"/>
<line x1="768.5" y1="102.5" x2="768.5" y2="108.0"/>
<line x1="73.5" y1="352.5" x2="79.0" y2="352.5"/>
<line x1="768.5" y1="352.5" x2="763.0" y2="352.5"/>
<line x1="73.5" y1="302.5" x2="79.0" y2="302.5"/>
<line x1="768.5" y1="302.5" x2="763.0" y2="302.5"/>
<line x1="73.5" y1="253.5" x2="79.0" y2="253.5"/>
<line x1="768.5" y1="253.5" x2="763.0" y2="253.5"/>
<line x1="73.5" y1="203.5" x2="79.0" y2="203.5"/>
<line x1="768.5" y1="203.5" x2="763.0" y2="203.5"/>
<line x1="73.5" y1="153.5" x2="79.0" y2="153.5"/>
<line x1="768.5" y1="153.5" x2="763.0" y2="153.5"/>
<line x1="73.5" y1="103.5" x2="79.0" y2="103.5"/>
<line x1="768.5" y1="103.5" x2="763.0" y2="103.5"/>
</g>
<rect x="73.5" y="102.5" width="695.0" height="253.0" fill="none" stroke="#000" stroke-width="1.30" stroke-linejoin="round"/>
<g font-size="19.44px" text-anchor="middle" letter-spacing="-0.9">
<text x="72.70" y="375.0">00</text>
<text x="101.63" y="375.0">01</text>
<text x="130.57" y="375.0">02</text>
<text x="159.50" y="375.0">03</text>
<text x="188.43" y="375.0">04</text>
<text x="217.36" y="375.0">05</text>
<text x="246.30" y="375.0">06</text>
<text x="275.23" y="375.0">07</text>
<text x="304.16" y="375.0">08</text>
<text x="333.10" y="375.0">09</text>
<text x="362.03" y="375.0">10</text>
<text x="390.96" y="375.0">11</text>
<text x="419.90" y="375.0">12</text>
<text x="448.83" y="375.0">13</text>
<text x="477.76" y="375.0">14</text>
<text x="506.69" y="375.0">15</text>
<text x="535.63" y="375.0">16</text>
<text x="564.56" y="375.0">17</text>
<text x="593.49" y="375.0">18</text>
<text x="622.43" y="375.0">19</text>
<text x="651.36" y="375.0">20</text>
<text x="680.29" y="375.0">21</text>
<text x="709.23" y="375.0">22</text>
<text x="738.16" y="375.0">23</text>
<text x="767.09" y="375.0">00</text>
</g>
<g font-size="19.44px" text-anchor="end">
<text x="69.00" y="358.30">0</text>
<text x="70.00" y="307.60">2</text>
<text x="69.50" y="258.20">4</text>
<text x="69.00" y="208.00">6</text>
<text x="69.00" y="158.20">8</text>
<text x="67.80" y="109.30" letter-spacing="-0.9">10</text>
</g>
<text font-size="19.44px" text-anchor="middle" transform="translate(35.0,228.1) rotate(-90)">Temperature (°C)</text>
<text font-size="23.37px" text-anchor="middle" x="421.85" y="42.00">Latest time: 2026-02-23 00:00:00 UTC</text>
<rect x="119.5" y="55.5" width="603.9" height="34.9" fill="#fff" stroke="#000" stroke-width="1.2"/>
<line x1="125" y1="71.4" x2="167" y2="71.4" stroke="#ff0000" stroke-width="3.00"/>
<text font-size="19.50px" x="181.5" y="78.1">HygroVUE5 (7.7 °C)</text>
<line x1="410" y1="71.4" x2="451" y2="71.4" stroke="#000000" stroke-width="3.00"/>
<text font-size="19.45px" x="465" y="78.1">Vaisala HMP35D (8.26 °C)</text>
</svg>
</body></html>
